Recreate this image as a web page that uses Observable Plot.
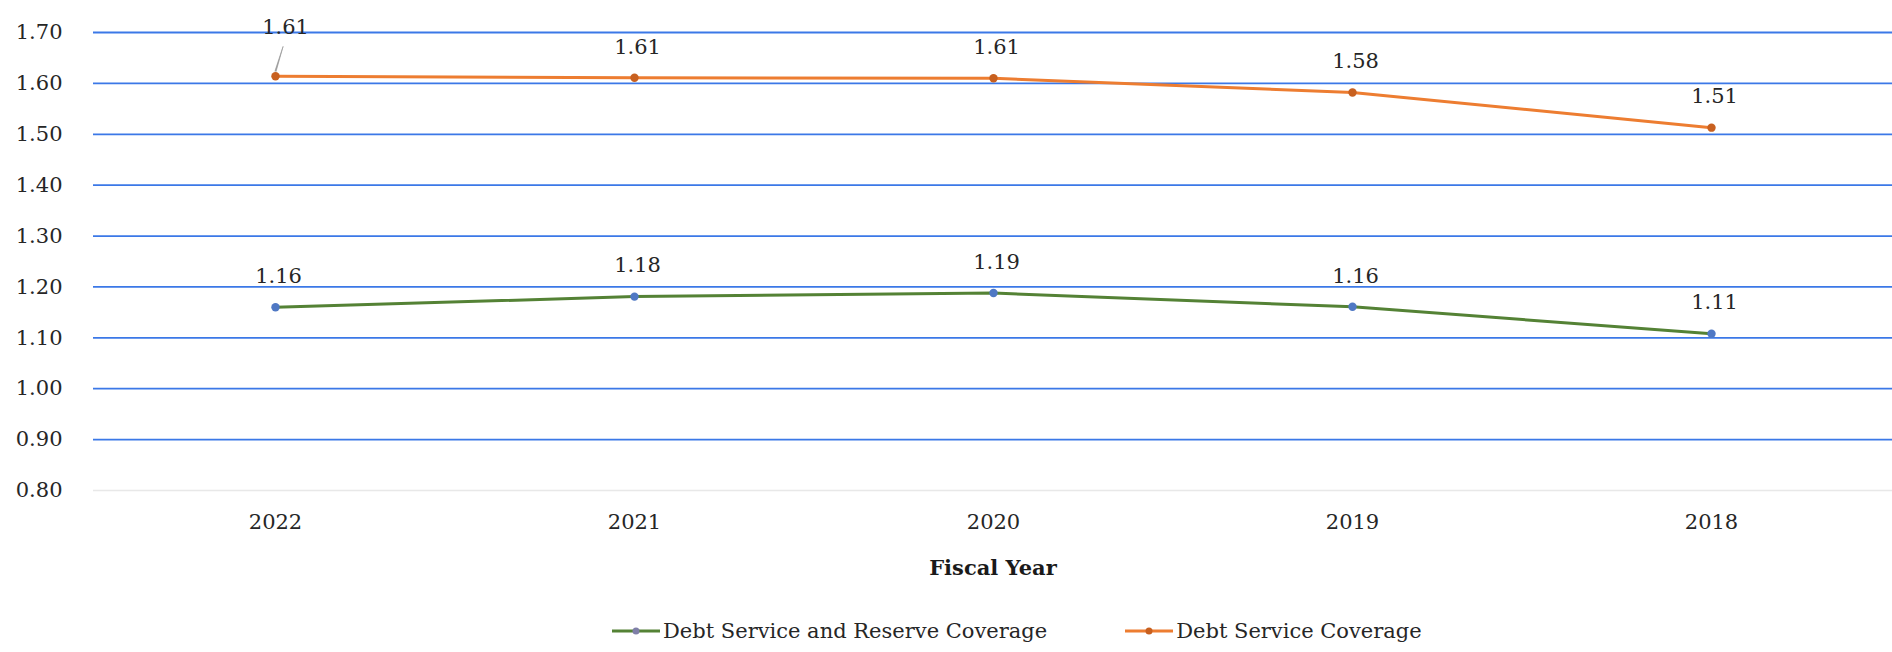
<!DOCTYPE html>
<html>
<head>
<meta charset="utf-8">
<script src="https://cdn.jsdelivr.net/npm/d3@7"></script>
<script src="https://cdn.jsdelivr.net/npm/@observablehq/plot@0.6"></script>
<style>
  html, body { margin: 0; padding: 0; background: #ffffff; }
  body { width: 1892px; height: 652px; overflow: hidden; font-family: "DejaVu Serif", serif; }
  #chart svg { display: block; }
  g[aria-label="x-axis label"] text { font-weight: bold; fill: #1a1a1a; }
  #legend { display: flex; align-items: center; height: 42px; margin-left: 612px; font-size: 21px; color: #262626; font-family: "DejaVu Serif", serif; }
  #legend .item { display: flex; align-items: center; margin-right: 78px; }
  #legend svg { margin-right: 3px; }
</style>
</head>
<body>
<div id="chart"></div>
<div id="legend"></div>
<script>
// ---- data ----
const years = ["2022", "2021", "2020", "2019", "2018"];
const reserveCoverage = [1.16, 1.181, 1.188, 1.161, 1.108];   // Debt Service and Reserve Coverage
const serviceCoverage = [1.614, 1.611, 1.61, 1.582, 1.513];   // Debt Service Coverage
const seriesNames = ["Debt Service and Reserve Coverage", "Debt Service Coverage"];
const yTicks = [0.8, 0.9, 1.0, 1.1, 1.2, 1.3, 1.4, 1.5, 1.6, 1.7];
const gridTicks = [0.9, 1.0, 1.1, 1.2, 1.3, 1.4, 1.5, 1.6, 1.7];
const xTitle = "Fiscal Year";

const lineColors = ["#548235", "#ED7D31"];
const dotColors = ["#4f78c4", "#c8601f"];

const rows = [];
years.forEach((y, i) => {
  rows.push({year: y, value: reserveCoverage[i], series: seriesNames[0]});
  rows.push({year: y, value: serviceCoverage[i], series: seriesNames[1]});
});
const fmt = v => v.toFixed(2);
const isLeader = d => d.series === seriesNames[1] && d.year === years[0];

const chart = Plot.plot({
  width: 1892,
  height: 610,
  marginLeft: 93,
  marginRight: 0,
  marginTop: 32,
  marginBottom: 120,
  style: {fontFamily: "DejaVu Serif, serif", fontSize: "21px", color: "#262626", background: "#ffffff"},
  x: {type: "point", domain: years, padding: 0.5},
  y: {domain: [0.8, 1.7]},
  color: {domain: seriesNames, range: lineColors},
  marks: [
    Plot.ruleY([0.8], {stroke: "#e8e8e8", strokeWidth: 1.5}),
    Plot.ruleY(gridTicks, {stroke: "#3b78e7", strokeWidth: 1.8}),
    Plot.axisY({ticks: yTicks, tickFormat: fmt, tickSize: 0, tickPadding: 31, label: null, fontSize: 21}),
    Plot.axisX({tickSize: 0, tickPadding: 24, label: xTitle, labelAnchor: "center", labelOffset: 84, fontSize: 21}),
    Plot.line(rows, {x: "year", y: "value", stroke: "series", strokeWidth: 3}),
    Plot.dot(rows, {x: "year", y: "value", r: 4.2, fill: d => d.series === seriesNames[0] ? dotColors[0] : dotColors[1], stroke: "none"}),
    Plot.vector(rows.filter(isLeader), {x: "year", y: "value", length: 26, rotate: 17, anchor: "start", dy: -5, shape: "spike", r: 0.6, stroke: "#9a9a9a", fill: "#9a9a9a", strokeWidth: 0.6}),
    Plot.text(rows.filter(d => !isLeader(d)), {x: "year", y: "value", text: d => fmt(d.value), dy: -31, dx: 3, fontSize: 21, fill: "#262626"}),
    Plot.text(rows.filter(isLeader), {x: "year", y: "value", text: d => fmt(d.value), dy: -49, dx: 10, fontSize: 21, fill: "#262626"})
  ]
});
document.getElementById("chart").appendChild(chart);

// ---- legend ----
const legend = document.getElementById("legend");
seriesNames.forEach((name, i) => {
  const item = document.createElement("div");
  item.className = "item";
  item.innerHTML = `<svg width="48" height="12" viewBox="0 0 48 12"><line x1="0" y1="6" x2="48" y2="6" stroke="${lineColors[i]}" stroke-width="3"/><circle cx="24" cy="6" r="3.5" fill="${i === 0 ? '#7f7fa8' : dotColors[1]}"/></svg><span>${name}</span>`;
  legend.appendChild(item);
});
</script>
</body>
</html>
